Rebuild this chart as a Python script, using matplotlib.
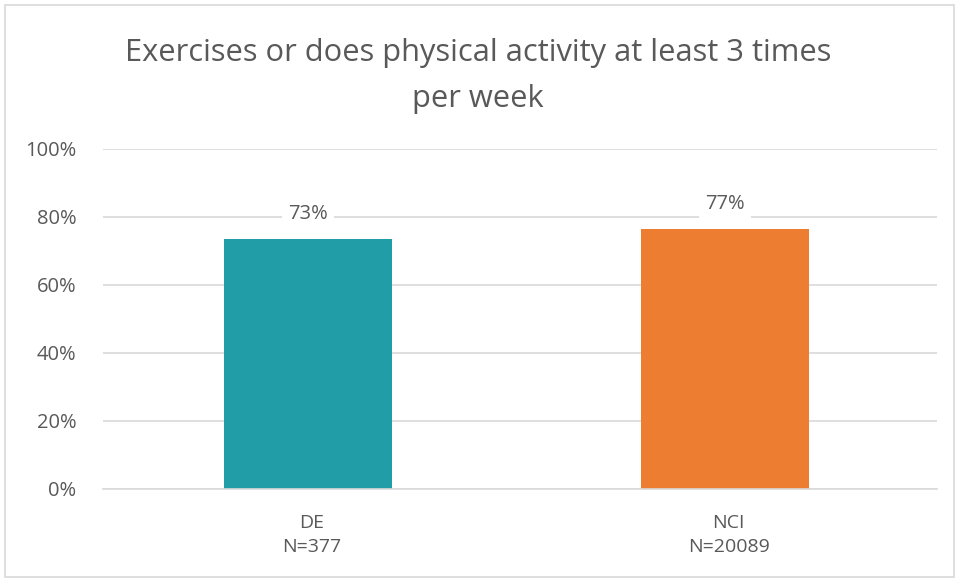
import matplotlib.pyplot as plt
from matplotlib.patches import Rectangle

categories = ["DE\nN=377", "NCI\nN=20089"]
values = [0.734, 0.766]
colors = ["#219DA8", "#ED7D31"]
yticks = [0, 0.2, 0.4, 0.6, 0.8, 1.0]
title = "Exercises or does physical activity at least 3 times\nper week"

plt.rcParams['font.family'] = ['Open Sans', 'DejaVu Sans']
txt = "#595959"

fig = plt.figure(figsize=(9.56, 5.79), dpi=100)
ax = fig.add_axes([103/956, 1-489/579, (937-103)/956, (489-149)/579])

x = range(len(categories))
ax.bar([xi - 0.008 for xi in x], values, width=0.403, color=colors, zorder=2)
ax.set_xlim(-0.5, 1.5)
ax.set_ylim(0, 1)
ax.set_yticks(yticks)
ax.set_yticklabels([f"{int(round(t*100))}%" for t in yticks], fontsize=14.5, color=txt)
ax.set_xticks(list(x))
ax.set_xticklabels(categories, fontsize=14, color=txt, linespacing=1.45)
ax.grid(axis='y', color='#D9D9D9', linewidth=1.2, zorder=0)
ax.tick_params(axis='y', length=0, pad=19)
ax.tick_params(axis='x', length=0, pad=18)
for s in ['top', 'right', 'left']:
    ax.spines[s].set_visible(False)
ax.spines['bottom'].set_color('#D9D9D9')
ax.spines['bottom'].set_linewidth(1.2)

for xi, v in zip(x, values):
    ax.annotate(f"{v*100:.0f}%", (xi - 0.008, v), xytext=(0, 18), textcoords='offset points',
                ha='center', va='center', fontsize=14.5, color=txt,
                bbox=dict(boxstyle='square,pad=0.3', fc='white', ec='none'), zorder=3)

fig.text(0.5, 1-76/579, title, ha='center', va='center', fontsize=22.2, color=txt, linespacing=1.68)

fig.patches.append(Rectangle((5/956, 2/579), 949/956, 572/579, transform=fig.transFigure,
                             fill=False, edgecolor='#D9D9D9', linewidth=1.2))

fig.savefig("out.png", dpi=100, facecolor='white')
